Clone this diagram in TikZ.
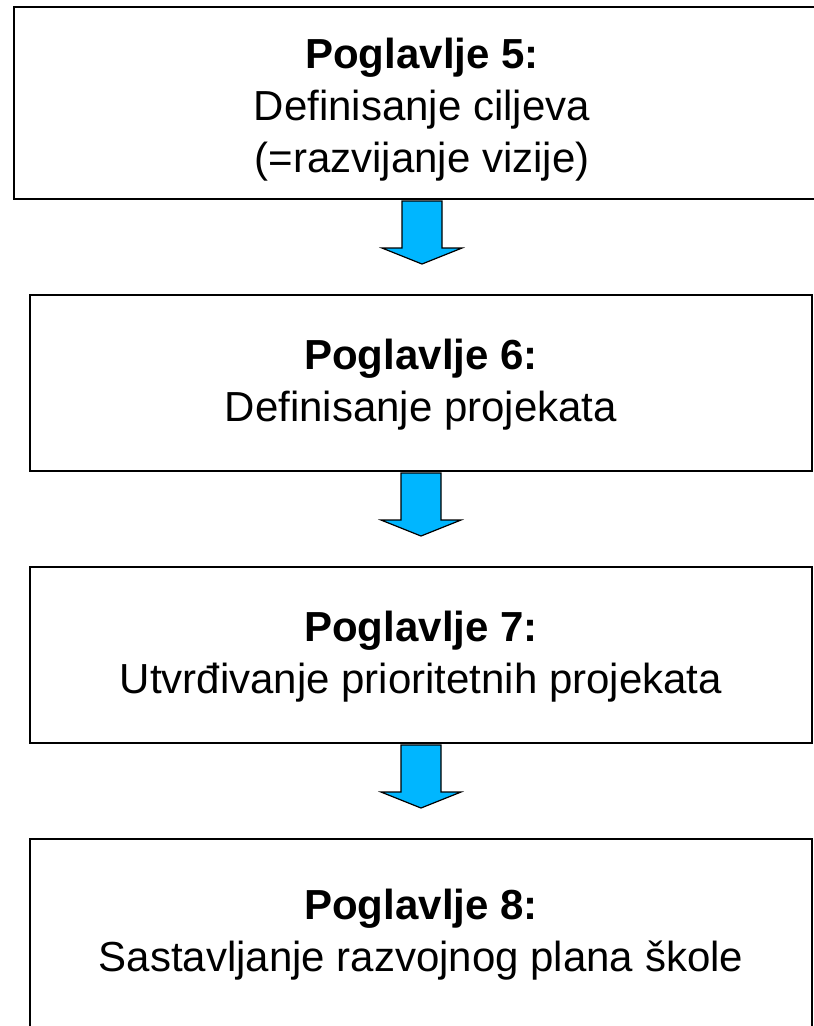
\documentclass[tikz,border=0pt]{standalone}
\usepackage{fontspec}
\setmainfont{Liberation Sans}
\usetikzlibrary{calc}
\definecolor{arrowblue}{RGB}{0,182,255}
\begin{document}
\begin{tikzpicture}[x=0.75pt, y=-0.75pt,
        chapter/.style={draw, line width=1.5pt, align=center, inner sep=0pt,
            font=\fontsize{31.5}{39}\selectfont},
        blockarrow/.style={draw=black, fill=arrowblue, line width=0.9pt, line join=miter}]
        \useasboundingbox (0, 0) rectangle (814, 1026);
        \clip (0, 0) rectangle (814, 1026);

        \node[chapter, minimum width=612pt, minimum height=144pt] (pog5) at (422, 103)
            {\textbf{Poglavlje 5:}\rule{0pt}{33pt}\\Definisanje ciljeva\\(=razvijanje vizije)};
        \node[chapter, minimum width=586.5pt, minimum height=132pt] (pog6) at (421, 383)
            {\textbf{Poglavlje 6:}\rule{0pt}{26pt}\\Definisanje projekata};
        \node[chapter, minimum width=586.5pt, minimum height=132pt] (pog7) at (421, 655)
            {\textbf{Poglavlje 7:}\rule{0pt}{25pt}\\Utvrđivanje prioritetnih projekata};
        \node[chapter, minimum width=586.5pt, minimum height=143.25pt] (pog8) at (421, 934.5)
            {\textbf{Poglavlje 8:}\\Sastavljanje razvojnog plana škole};

        % blue arrows between the chapters
        \foreach \a in {pog5, pog6, pog7}
            \draw[blockarrow] ($(\a.south) + (-20, 1)$) -- ++(0, 47) -- ++(-20, 0)
                -- ($(\a.south) + (0, 64)$) -- ++(40, -16) -- ++(-20, 0)
                -- ($(\a.south) + (20, 1)$) -- cycle;
        \end{tikzpicture}
\end{document}
